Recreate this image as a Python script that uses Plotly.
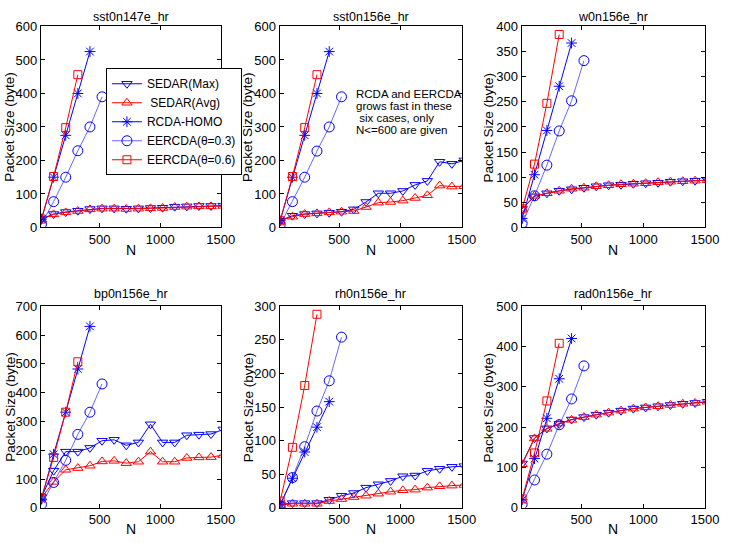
import plotly.graph_objects as go
from plotly.subplots import make_subplots

# x positions (N) of each series
n_sedar = [20, 120, 220, 320, 420, 520, 620, 720, 820, 920, 1020, 1120, 1220, 1320, 1420, 1520]
n_rcda = [20, 120, 220, 320, 420]
n_eer3 = [20, 120, 220, 320, 420, 520]
n_eer6 = [20, 120, 220, 320]

titles = ["sst0n147e_hr", "sst0n156e_hr", "w0n156e_hr", "bp0n156e_hr", "rh0n156e_hr", "rad0n156e_hr"]
names = ["SEDAR(Max)", " SEDAR(Avg)", "RCDA-HOMO", "EERCDA(\u03b8=0.3)", "EERCDA(\u03b8=0.6)"]
note_lines = ["RCDA and EERCDA", "grows fast in these", " six cases, only", "N<=600 are given"]

# sst0n147e_hr
max1 = [25, 40, 46, 50, 55, 57, 57, 56, 57, 58, 59, 62, 63, 64, 64, 65]
avg1 = [24, 39, 45, 49, 54, 56, 56, 55, 56, 57, 58, 61, 62, 63, 63, 64]
rcda1 = [25, 150, 275, 400, 525]
eer3_1 = [10, 77, 150, 229, 300, 390]
eer6_1 = [25, 152, 298, 456]

# sst0n156e_hr
max2 = [20, 35, 40, 42, 44, 47, 54, 76, 102, 102, 109, 127, 139, 196, 190, 200]
avg2 = [20, 32, 40, 42, 45, 47, 49, 61, 74, 76, 80, 88, 96, 125, 122, 123]
rcda2 = [20, 150, 275, 400, 525]
eer3_2 = [8, 77, 150, 228, 300, 390]
eer6_2 = [20, 152, 298, 456]

# w0n156e_hr
max3 = [37, 62, 68, 73, 76, 79, 82, 84, 85, 87, 88, 89, 91, 92, 93, 94]
avg3 = [37, 63, 68, 73, 77, 79, 82, 84, 86, 87, 88, 90, 91, 92, 93, 94]
rcda3 = [18, 105, 193, 281, 367]
eer3_3 = [8, 63, 124, 192, 252, 332]
eer6_3 = [37, 126, 247, 384]

# bp0n156e_hr
max4 = [37, 129, 195, 195, 208, 233, 236, 217, 227, 290, 227, 227, 252, 254, 256, 272]
avg4 = [35, 90, 132, 138, 146, 161, 163, 155, 160, 195, 160, 160, 173, 175, 176, 183]
rcda4 = [30, 186, 332, 482, 630]
eer3_4 = [12, 88, 165, 255, 332, 430]
eer6_4 = [35, 175, 332, 507]

# rh0n156e_hr
max5 = [5, 7, 7, 7, 12, 18, 22, 30, 35, 40, 47, 48, 55, 58, 61, 62]
avg5 = [4, 6, 6, 6, 10, 13, 16, 18, 21, 24, 26, 27, 30, 32, 33, 34]
rcda5 = [5, 44, 83, 120, 158]
eer3_5 = [3, 45, 91, 144, 189, 254]
eer6_5 = [10, 90, 182, 288]

# rad0n156e_hr
max6 = [110, 173, 197, 208, 219, 225, 231, 236, 241, 246, 249, 252, 255, 258, 260, 263]
avg6 = [108, 172, 196, 209, 218, 225, 231, 236, 241, 246, 249, 252, 255, 258, 260, 263]
rcda6 = [20, 122, 222, 320, 420]
eer3_6 = [9, 69, 133, 206, 270, 352]
eer6_6 = [22, 136, 265, 408]

y_max = [600, 600, 400, 700, 300, 500]
y_step = [100, 100, 50, 100, 50, 100]

panels = [
    (max1, avg1, rcda1, eer3_1, eer6_1),
    (max2, avg2, rcda2, eer3_2, eer6_2),
    (max3, avg3, rcda3, eer3_3, eer6_3),
    (max4, avg4, rcda4, eer3_4, eer6_4),
    (max5, avg5, rcda5, eer3_5, eer6_5),
    (max6, avg6, rcda6, eer3_6, eer6_6),
]

BLUE = "#0000ff"
RED = "#ff0000"
FONT = "Liberation Sans, Arial"
styles = [
    dict(color=BLUE, symbol="triangle-down-open", size=9, width=1),
    dict(color=RED, symbol="triangle-up-open", size=9, width=1),
    dict(color=BLUE, symbol="asterisk-open", size=9, width=1),
    dict(color=BLUE, symbol="circle-open", size=10, width=0.6),
    dict(color=RED, symbol="square-open", size=8, width=1),
]
xs = [n_sedar, n_sedar, n_rcda, n_eer3, n_eer6]

W, H = 733, 544
col_px = [(41.7, 225), (285, 470.7), (531.7, 718.7)]
row_px = [(20, 226.7), (307.7, 515)]
title_y = [10, 295]
ytitle_x = [10, 253, 498]
xtitle_y = [250, 537]

fig = make_subplots(rows=2, cols=3)

for p, series in enumerate(panels):
    r, c = p // 3 + 1, p % 3 + 1
    for k, ys in enumerate(series):
        st = styles[k]
        fig.add_trace(go.Scatter(
            x=xs[k], y=ys, name=names[k], mode="lines+markers",
            line=dict(color=st["color"], width=st["width"]),
            marker=dict(symbol=st["symbol"], size=st["size"], color=st["color"],
                        line=dict(color=st["color"], width=1)),
            showlegend=(p == 0), legendrank=k,
        ), row=r, col=c)

axis_common = dict(showline=True, linecolor="black", linewidth=1, mirror="allticks",
                   ticks="inside", ticklen=4, tickcolor="black", showgrid=False, zeroline=False,
                   tickfont=dict(family=FONT, size=13, color="black"))

for p in range(6):
    r, c = p // 3, p % 3
    x0, x1 = col_px[c]
    y0, y1 = row_px[r]
    fig.update_xaxes(row=r + 1, col=c + 1, range=[15, 1500], tickvals=[500, 1000, 1500],
                     domain=[x0 / W, x1 / W], **axis_common)
    fig.update_yaxes(row=r + 1, col=c + 1, range=[0, y_max[p]], dtick=y_step[p],
                     domain=[1 - y1 / H, 1 - y0 / H], **axis_common)
    fig.add_annotation(text=titles[p], xref="paper", yref="paper",
                       x=(x0 + x1) / 2 / W, y=1 - title_y[r] / H, xanchor="center", yanchor="middle",
                       showarrow=False, font=dict(size=12.5, color="black"))
    fig.add_annotation(text="N", xref="paper", yref="paper",
                       x=(x0 + x1) / 2 / W, y=1 - xtitle_y[r] / H, xanchor="center", yanchor="middle",
                       showarrow=False, font=dict(size=14, color="black"))
    fig.add_annotation(text="Packet Size (byte)", xref="paper", yref="paper", textangle=-90,
                       x=ytitle_x[c] / W, y=1 - (y0 + y1) / 2 / H, xanchor="center", yanchor="middle",
                       showarrow=False, font=dict(size=13.5, color="black"))

for i, line in enumerate(note_lines):
    fig.add_annotation(text=line, xref="paper", yref="paper", x=361 / W, y=1 - (89 + 12.5 * i) / H,
                       xanchor="left", yanchor="middle", showarrow=False,
                       font=dict(size=11.5, color="black"))

fig.update_layout(
    width=W, height=H, margin=dict(l=0, r=0, t=0, b=0),
    paper_bgcolor="white", plot_bgcolor="white",
    font=dict(family=FONT, color="black"),
    legend=dict(x=108 / W, y=1 - 63 / H, xanchor="left", yanchor="top",
                bgcolor="white", bordercolor="black", borderwidth=1,
                font=dict(size=12, color="black"), tracegroupgap=0, itemwidth=30),
)

fig.write_html("out.html", config={"displayModeBar": False},
               post_script="document.body.style.margin='0';")
